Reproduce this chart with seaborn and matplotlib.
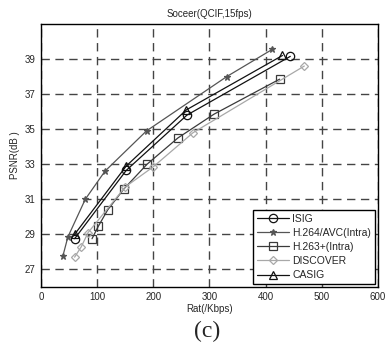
import matplotlib
matplotlib.use("Agg")
import matplotlib.pyplot as plt
import seaborn as sns
import pandas as pd

# rate (Kbps) / PSNR (dB)
isig_rate = [60, 152, 260, 444]
isig_psnr = [28.75, 32.65, 35.8, 39.15]

h264_rate = [39, 48, 79, 114, 188, 331, 412]
h264_psnr = [27.75, 28.85, 31.0, 32.6, 34.9, 38.0, 39.55]

h263_rate = [91, 102, 119, 148, 189, 244, 308, 425]
h263_psnr = [28.75, 29.45, 30.4, 31.6, 33.0, 34.5, 35.85, 37.85]

discover_rate = [60, 72, 84, 150, 200, 271, 469]
discover_psnr = [27.7, 28.3, 29.1, 31.7, 32.85, 34.8, 38.6]

casig_rate = [60, 152, 259, 430]
casig_psnr = [29.0, 32.9, 36.1, 39.2]

names = ["ISIG", "H.264/AVC(Intra)", "H.263+(Intra)", "DISCOVER", "CASIG"]
rates = [isig_rate, h264_rate, h263_rate, discover_rate, casig_rate]
psnrs = [isig_psnr, h264_psnr, h263_psnr, discover_psnr, casig_psnr]

sns.set_style("white")
plt.rcParams['font.family'] = ['Liberation Sans', 'DejaVu Sans']

frames = []
for n, r, p in zip(names, rates, psnrs):
    frames.append(pd.DataFrame({"rate": r, "psnr": p, "method": n}))
df = pd.concat(frames, ignore_index=True)

colors = {"ISIG": "#111111", "H.264/AVC(Intra)": "#555555", "H.263+(Intra)": "#3a3a3a",
          "DISCOVER": "#a8a8a8", "CASIG": "#111111"}
markers = {"ISIG": "o", "H.264/AVC(Intra)": "*", "H.263+(Intra)": "s",
           "DISCOVER": "D", "CASIG": "^"}
msizes = {"ISIG": 6, "H.264/AVC(Intra)": 5, "H.263+(Intra)": 6, "DISCOVER": 4.5, "CASIG": 6}

fig = plt.figure(figsize=(3.86, 3.42), dpi=100)
ax = fig.add_axes([0.106, 0.161, 0.873, 0.769])

for n in names:
    sub = df[df["method"] == n]
    fill = "full" if n == "H.264/AVC(Intra)" else "none"
    sns.lineplot(data=sub, x="rate", y="psnr", ax=ax, color=colors[n], lw=0.9,
                 marker=markers[n], markersize=msizes[n], fillstyle=fill,
                 markeredgewidth=0.9, markeredgecolor=colors[n], label=n,
                 sort=False, estimator=None)

ax.set_xlim(0, 600)
ax.set_ylim(26, 41)
ax.set_xticks([0, 100, 200, 300, 400, 500, 600])
ax.set_yticks([27, 29, 31, 33, 35, 37, 39])
ax.grid(True, color="#444444", linestyle=(0, (6, 4)), linewidth=1.0)
ax.set_axisbelow(True)
for s in ax.spines.values():
    s.set_color("black")
    s.set_linewidth(1.0)
ax.tick_params(labelsize=7, length=0, pad=4)

ax.set_title("Soceer(QCIF,15fps)", fontsize=7, pad=5)
ax.set_xlabel("Rat(/Kbps)", fontsize=7, labelpad=1)
ax.set_ylabel("PSNR(dB )", fontsize=7, labelpad=3)

leg = ax.legend(loc="lower right", fontsize=7.5, frameon=True, fancybox=False,
                edgecolor="black", framealpha=1, borderpad=0.35, labelspacing=0.4,
                handlelength=3.1, handletextpad=0.3, borderaxespad=0.3)
leg.get_frame().set_linewidth(1.0)

fig.text(0.537, 0.032, "(c)", ha="center", va="center", fontsize=17,
         family="Liberation Serif")

fig.savefig("out.png", dpi=100)
